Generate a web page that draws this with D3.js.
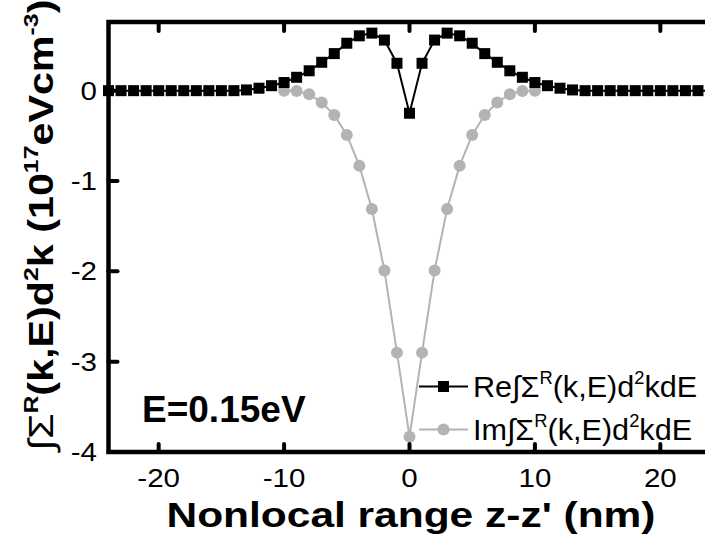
<!DOCTYPE html>
<html>
<head>
<meta charset="utf-8">
<script src="https://cdn.jsdelivr.net/npm/d3@7"></script>
<style>
  body { margin: 0; background: #fff; }
  svg { display: block; }
</style>
</head>
<body>
<svg id="chart" width="705" height="543"></svg>
<script>
// Nonlocal range z-z' (nm), 1 nm step
const positions = d3.range(-24, 25);
// Re of the k-integrated retarded self-energy (10^17 eV cm^-3)
const reValues = [
  0, 0, 0, 0, 0, 0, 0, 0, 0, 0, 0,
  0.008, 0.027, 0.055, 0.09, 0.148, 0.22, 0.314, 0.41, 0.525, 0.607, 0.637, 0.56, 0.303,
  -0.25,
  0.303, 0.56, 0.637, 0.607, 0.525, 0.41, 0.314, 0.22, 0.148, 0.09, 0.055, 0.027, 0.008,
  0, 0, 0, 0, 0, 0, 0, 0, 0, 0, 0
];
// Im part, shown where it departs from zero
const imPositions = d3.range(-10, 11);
const imValues = [
  0, -0.005, -0.04, -0.13, -0.27, -0.49, -0.83, -1.31, -1.99, -2.90,
  -3.83,
  -2.90, -1.99, -1.31, -0.83, -0.49, -0.27, -0.13, -0.04, -0.005, 0
];
const xTicks = [-20, -10, 0, 10, 20];
const yTicks = [0, -1, -2, -3, -4];
const xDomain = [-24, 24];
const yDomain = [-4, 0.76];

const FONT = "'Liberation Sans', Arial, Helvetica, sans-serif";
const GRAY = "#b3b3b3";
const svg = d3.select("#chart");

const x = d3.scaleLinear().domain(xDomain).range([108.5, 710.5]);
const y = d3.scaleLinear().domain(yDomain).range([452, 22]);

// text with a horizontal stretch factor (applied in the text's own frame)
function label(g, str, tx, ty, opts) {
  const o = Object.assign({size: 25, weight: "normal", anchor: "middle", stretch: 1.18, rotate: 0}, opts);
  return g.append("text")
    .attr("transform", `translate(${tx},${ty}) rotate(${o.rotate}) scale(${o.stretch},1)`)
    .attr("font-family", FONT)
    .attr("font-size", o.size)
    .attr("font-weight", o.weight)
    .attr("text-anchor", o.anchor)
    .attr("fill", "#000")
    .text(str);
}

// rich text: parts = [[string, isSuperscript, weight]]
function richLabel(g, parts, tx, ty, opts) {
  const o = Object.assign({size: 30, anchor: "start", stretch: 1.0, rotate: 0}, opts);
  const t = g.append("text")
    .attr("transform", `translate(${tx},${ty}) rotate(${o.rotate}) scale(${o.stretch},1)`)
    .attr("font-family", FONT)
    .attr("font-size", o.size)
    .attr("text-anchor", o.anchor)
    .attr("fill", "#000");
  let raised = false;
  parts.forEach(([s, sup, weight]) => {
    const ts = t.append("tspan").text(s).attr("font-weight", weight || "normal");
    if (sup && !raised) { ts.attr("font-size", o.size * 0.6).attr("dy", -o.size * 0.42); raised = true; }
    else if (sup) { ts.attr("font-size", o.size * 0.6); }
    else if (!sup && raised) { ts.attr("dy", o.size * 0.42); raised = false; }
  });
  return t;
}

const plot = svg.append("g");

// Im series (under)
const imData = imPositions.map((p, i) => ({p, v: imValues[i]}));
plot.append("path")
  .datum(imData)
  .attr("fill", "none")
  .attr("stroke", GRAY)
  .attr("stroke-width", 2)
  .attr("d", d3.line().x(d => x(d.p)).y(d => y(d.v)));
plot.selectAll("circle.im")
  .data(imData)
  .join("circle")
  .attr("class", "im")
  .attr("cx", d => x(d.p))
  .attr("cy", d => y(d.v))
  .attr("r", 6)
  .attr("fill", GRAY);

// Re series (over)
const reData = positions.map((p, i) => ({p, v: reValues[i]}));
plot.append("path")
  .datum(reData)
  .attr("fill", "none")
  .attr("stroke", "#000")
  .attr("stroke-width", 2)
  .attr("d", d3.line().x(d => x(d.p)).y(d => y(d.v)));
const SQ = 11;
plot.selectAll("rect.re")
  .data(reData)
  .join("rect")
  .attr("class", "re")
  .attr("x", d => x(d.p) - SQ / 2)
  .attr("y", d => y(d.v) - SQ / 2)
  .attr("width", SQ)
  .attr("height", SQ)
  .attr("fill", "#000");

// Frame
const [x0, x1] = x.range();
const [yb, yt] = y.range();
const frame = svg.append("g").attr("stroke", "#000").attr("stroke-width", 4.5).attr("fill", "none");
frame.append("path").attr("stroke-linecap", "square")
  .attr("d", `M${x0},${yt}L${x0},${yb}L${x1},${yb}L${x1},${yt}Z`);

// Ticks, pointing inward
const ticks = svg.append("g").attr("stroke", "#000").attr("stroke-width", 4).attr("stroke-linecap", "round");
xTicks.forEach(t => {
  ticks.append("line").attr("x1", x(t)).attr("x2", x(t)).attr("y1", yb).attr("y2", yb - 8);
  ticks.append("line").attr("x1", x(t)).attr("x2", x(t)).attr("y1", yt).attr("y2", yt + 9);
});
yTicks.forEach(t => {
  ticks.append("line").attr("x1", x0).attr("x2", x0 + 9).attr("y1", y(t)).attr("y2", y(t));
});

// Tick labels
const tl = svg.append("g");
xTicks.forEach(t => label(tl, String(t), x(t), 487, {size: 25}));
yTicks.forEach(t => label(tl, String(t), 97, y(t) + 9, {size: 25, anchor: "end"}));

// Axis titles
label(svg, "Nonlocal range z-z' (nm)", 411, 527, {size: 36, weight: "bold"});
richLabel(svg, [
  ["\u222B\u03A3", false, "normal"], ["R", true, "bold"],
  ["(k,E)d", false, "bold"], ["2", true, "bold"],
  ["k (10", false, "bold"], ["17", true, "bold"],
  ["eVcm", false, "bold"], ["-3", true, "bold"],
  [")", false, "bold"]
], 53, 225, {size: 35, anchor: "middle", stretch: 1.18, rotate: -90});

// Energy annotation
label(svg, "E=0.15eV", 142, 421.5, {size: 37, weight: "bold", anchor: "start", stretch: 1});

// Legend
const lg = svg.append("g");
const legendRows = [
  {name: "Re", color: "#000", shape: "square", cy: 386.5},
  {name: "Im", color: GRAY, shape: "circle", cy: 429.5}
];
legendRows.forEach(r => {
  lg.append("line").attr("x1", 419).attr("x2", 468).attr("y1", r.cy).attr("y2", r.cy)
    .attr("stroke", r.color).attr("stroke-width", 2);
  if (r.shape === "square") {
    lg.append("rect").attr("x", 443.5 - SQ / 2).attr("y", r.cy - SQ / 2)
      .attr("width", SQ).attr("height", SQ).attr("fill", r.color);
  } else {
    lg.append("circle").attr("cx", 443.5).attr("cy", r.cy).attr("r", 6).attr("fill", r.color);
  }
  richLabel(lg, [
    [r.name + "\u222B\u03A3", false], ["R", true],
    ["(k,E)d", false], ["2", true], ["kdE", false]
  ], 473, r.cy + 10.5, {size: 30, stretch: 1.02});
});
</script>
</body>
</html>
